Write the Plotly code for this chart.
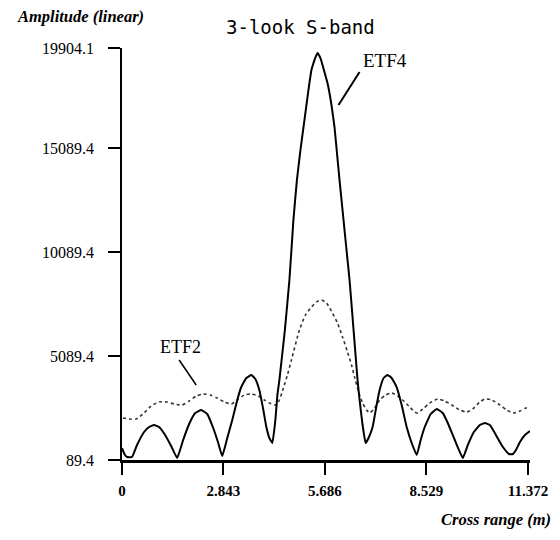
import plotly.graph_objects as go

# ---- data ----
etf4_x = [0.000, 0.084, 0.140, 0.281, 0.421, 0.618, 0.758, 0.899, 1.039, 1.208, 1.376, 1.545,
          1.713, 1.881, 2.050, 2.218, 2.387, 2.555, 2.696, 2.808, 2.949, 3.089, 3.229, 3.342,
          3.482, 3.623, 3.735, 3.847, 3.960, 4.044, 4.128, 4.212, 4.297, 4.353, 4.409, 4.465,
          4.563, 4.690, 4.802, 4.900, 4.999, 5.111, 5.223, 5.307, 5.392, 5.476, 5.560, 5.673,
          5.757, 5.869, 5.953, 6.038, 6.094, 6.178, 6.290, 6.375, 6.487, 6.543, 6.599, 6.656,
          6.740, 6.824, 6.908, 7.021, 7.133, 7.217, 7.329, 7.442, 7.554, 7.694, 7.835, 7.975,
          8.116, 8.256, 8.368, 8.481, 8.649, 8.818, 8.986, 9.127, 9.323, 9.548, 9.688, 9.857,
          10.025, 10.166, 10.306, 10.475, 10.671, 10.840, 10.952, 11.036, 11.148, 11.289, 11.429]
etf4_y = [666, 330, 234, 234, 811, 1436, 1676, 1772, 1676, 1292, 762, 185,
          1051, 1820, 2349, 2494, 2301, 1628, 907, 281, 1147, 2013, 2974, 3600,
          4032, 4177, 3984, 3455, 2494, 1676, 1147, 907, 2013, 3215, 3936, 4802,
          6341, 8745, 11631, 13554, 14997, 16440, 17882, 18844, 19325, 19662, 19421, 18748,
          18219, 17161, 16103, 14564, 13554, 12112, 10188, 8745, 6341, 5138, 3936, 2974,
          1772, 907, 1147, 1676, 2734, 3455, 4032, 4177, 4032, 3600, 2734, 1676,
          907, 330, 1051, 1676, 2301, 2542, 2349, 1868, 1051, 185, 811, 1436,
          1772, 1868, 1772, 1292, 714, 378, 378, 570, 955, 1292, 1484]

etf2_x = [0.028, 0.197, 0.393, 0.618, 0.814, 1.039, 1.264, 1.460, 1.685, 1.881, 2.078, 2.275,
          2.471, 2.668, 2.864, 3.061, 3.229, 3.426, 3.623, 3.819, 3.988, 4.128, 4.325, 4.409,
          4.521, 4.634, 4.746, 4.971, 5.139, 5.307, 5.448, 5.588, 5.729, 5.897, 6.038, 6.178,
          6.318, 6.431, 6.515, 6.627, 6.740, 6.852, 6.937, 7.077, 7.217, 7.386, 7.554, 7.723,
          7.863, 8.060, 8.256, 8.425, 8.621, 8.846, 9.042, 9.239, 9.464, 9.660, 9.857, 10.025,
          10.166, 10.362, 10.587, 10.784, 10.952, 11.148, 11.317, 11.429]
etf2_y = [2109, 2061, 2061, 2349, 2686, 2878, 2878, 2782, 2734, 2926, 3167, 3263,
          3215, 3071, 2878, 2782, 2974, 3215, 3263, 3167, 2974, 2830, 2734, 2974,
          3551, 4177, 4898, 6341, 7062, 7447, 7687, 7783, 7639, 7158, 6677, 6004,
          5283, 4658, 4080, 3359, 2830, 2494, 2349, 2590, 2974, 3215, 3311, 3167,
          2974, 2638, 2349, 2542, 2830, 3022, 2926, 2734, 2494, 2397, 2590, 2878,
          3022, 2974, 2734, 2494, 2349, 2445, 2590, 2638]

x_ticks = [0, 2.843, 5.686, 8.529, 11.372]
x_tick_labels = ["0", "2.843", "5.686", "8.529", "11.372"]
y_ticks = [89.4, 5089.4, 10089.4, 15089.4, 19904.1]
y_tick_labels = ["89.4", "5089.4", "10089.4", "15089.4", "19904.1"]

serif = "Liberation Serif"

fig = go.Figure()
fig.add_trace(go.Scatter(x=etf2_x, y=etf2_y, mode="lines",
                         line=dict(color="#333333", width=1.6, dash="dot", shape="spline", smoothing=0.6),
                         name="ETF2", hoverinfo="skip"))
fig.add_trace(go.Scatter(x=etf4_x, y=etf4_y, mode="lines",
                         line=dict(color="black", width=2, shape="spline", smoothing=0.35),
                         name="ETF4", hoverinfo="skip"))

fig.update_layout(
    width=560, height=540,
    margin=dict(l=122, r=30, t=48, b=80),
    paper_bgcolor="white", plot_bgcolor="white",
    showlegend=False,
    xaxis=dict(range=[0, 11.43], tickvals=x_ticks, ticktext=x_tick_labels,
               showgrid=False, zeroline=False, showline=True, linecolor="black", linewidth=2.5,
               ticks="outside", ticklen=12, tickwidth=2, tickcolor="black",
               tickfont=dict(family=serif, size=15, color="black", weight="bold"),
               ticklabelstandoff=3),
    yaxis=dict(range=[89.4, 19904.1], tickvals=y_ticks, showticklabels=False,
               showgrid=False, zeroline=False, showline=True, linecolor="black", linewidth=2,
               ticks="outside", ticklen=12, tickwidth=2, tickcolor="black"),
)

# y tick labels placed as text at the tick values
for v, t in zip(y_ticks, y_tick_labels):
    fig.add_annotation(text=t, xref="paper", yref="y", x=(96 - 122) / 408, y=v,
                       xanchor="right", yanchor="middle", showarrow=False,
                       font=dict(family=serif, size=16, color="black"))

# titles
fig.add_annotation(text="<b><i>Amplitude (linear)</i></b>", xref="paper", yref="paper",
                   x=(15 - 122) / 408, y=(460 - 17) / 412, xanchor="left", yanchor="middle",
                   showarrow=False, font=dict(family=serif, size=16.5, color="black"))
fig.add_annotation(text="3-look S-band", xref="paper", yref="paper",
                   x=(300 - 122) / 408, y=(460 - 27) / 412, xanchor="center", yanchor="middle",
                   showarrow=False, font=dict(family="DejaVu Sans Mono", size=19, color="black"))
fig.add_annotation(text="<b><i>Cross range (m)</i></b>", xref="paper", yref="paper",
                   x=(553 - 122) / 408, y=(460 - 519) / 412, xanchor="right", yanchor="middle",
                   showarrow=False, font=dict(family=serif, size=16.5, color="black"))

# curve labels with leader lines
fig.add_annotation(text="ETF4", x=7.357, y=19325, xanchor="center", yanchor="middle",
                   showarrow=False, font=dict(family=serif, size=19, color="black"))
fig.add_shape(type="line", x0=6.655, y0=18748, x1=6.066, y1=17161,
              line=dict(color="black", width=2))
fig.add_annotation(text="ETF2", x=1.629, y=5524, xanchor="center", yanchor="middle",
                   showarrow=False, font=dict(family=serif, size=18, color="black"))
fig.add_shape(type="line", x0=1.601, y0=4898, x1=2.078, y1=3696,
              line=dict(color="black", width=1.5))

fig.write_html("out.html")
